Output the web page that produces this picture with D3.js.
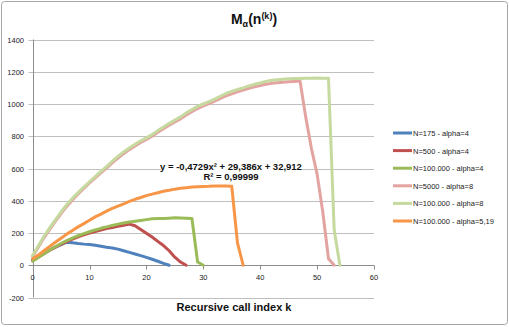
<!DOCTYPE html>
<html>
<head>
<meta charset="utf-8">
<script src="https://cdn.jsdelivr.net/npm/d3@7"></script>
<style>
  body { margin: 0; background: #fff; }
  text { font-family: "Liberation Sans", Arial, sans-serif; }
</style>
</head>
<body>
<div id="chart"></div>
<script>
// series values, index = recursive call index k (0, 1, 2, ...)
const n175a4 = [35, 55, 75, 95, 112, 128, 143, 140, 135, 131, 128, 124, 118, 112, 107, 100, 90, 80, 70, 60, 49, 37, 25, 12, 0];
const n500a4 = [28, 50, 72, 93, 112, 130, 147, 162, 176, 188, 199, 209, 218, 227, 234, 241, 248, 255, 245, 222, 198, 175, 148, 122, 90, 50, 20, 0];
const n100ka4 = [25, 48, 72, 95, 115, 135, 153, 168, 183, 196, 208, 219, 229, 238, 247, 255, 262, 268, 273, 278, 283, 288, 290, 290, 292, 294, 293, 292, 290, 20, 0];
const n5000a8 = [55, 112, 170, 222, 272, 320, 365, 405, 442, 477, 510, 542, 573, 603, 635, 665, 692, 717, 740, 762, 780, 800, 824, 847, 868, 888, 908, 932, 952, 972, 988, 1003, 1018, 1035, 1050, 1063, 1075, 1087, 1098, 1107, 1115, 1122, 1128, 1132, 1135, 1138, 1140, 1142, 920, 725, 565, 330, 40, 0];
const n100ka8 = [60, 120, 180, 232, 282, 330, 375, 415, 450, 485, 518, 550, 582, 612, 645, 675, 703, 727, 750, 772, 790, 810, 835, 858, 880, 900, 920, 945, 965, 985, 1000, 1015, 1030, 1048, 1065, 1078, 1090, 1100, 1112, 1122, 1130, 1140, 1147, 1150, 1153, 1156, 1158, 1158, 1160, 1160, 1161, 1160, 1160, 220, 0];
const n100ka519 = [40, 63, 90, 117, 143, 168, 193, 215, 238, 258, 279, 300, 317, 336, 352, 367, 381, 396, 409, 420, 432, 441, 450, 459, 465, 472, 477, 481, 485, 487, 489, 490, 492, 492, 491, 490, 140, 0];

const seriesNames = ["N=175 - alpha=4", "N=500 - alpha=4", "N=100.000 - alpha=4",
  "N=5000 - alpha=8", "N=100.000 - alpha=8", "N=100.000 - alpha=5,19"];
const seriesColors = ["#4f81bd", "#c0504d", "#9bbb59", "#e3a3a1", "#c6da9f", "#f79646"];
const allSeries = [n175a4, n500a4, n100ka4, n5000a8, n100ka8, n100ka519];

const xTicks = [0, 10, 20, 30, 40, 50, 60];
const yTicks = [-200, 0, 200, 400, 600, 800, 1000, 1200, 1400];

const W = 509, H = 327;

const svg = d3.select("#chart").append("svg")
    .attr("width", W)
    .attr("height", H);

// outer frame
svg.append("rect")
    .attr("x", 1.5).attr("y", 1.5)
    .attr("width", W - 3).attr("height", H - 4)
    .attr("rx", 3)
    .attr("fill", "#fff")
    .attr("stroke", "#a6a6a6")
    .attr("stroke-width", 1);

let x = d3.scaleLinear().domain([0, 60]).range([32.6, 374]);
let y = d3.scaleLinear().domain([-200, 1400]).range([297.5, 39.5]);

// gridlines
svg.append("g")
    .selectAll("line")
    .data(yTicks)
    .enter().append("line")
    .attr("x1", x(0) - 4)
    .attr("x2", x(60))
    .attr("y1", d => Math.round(y(d)) + 0.5)
    .attr("y2", d => Math.round(y(d)) + 0.5)
    .attr("stroke", d => d === 0 ? "#8c8c8c" : "#bfbfbf")
    .attr("stroke-width", 1);

// y axis line
svg.append("line")
    .attr("x1", Math.round(x(0)) + 0.5).attr("x2", Math.round(x(0)) + 0.5)
    .attr("y1", y(1400)).attr("y2", y(-200))
    .attr("stroke", "#8c8c8c");

// y labels
svg.append("g")
    .selectAll("text")
    .data(yTicks)
    .enter().append("text")
    .attr("x", 24)
    .attr("y", d => y(d) + 3)
    .attr("text-anchor", "end")
    .attr("font-size", 7.5)
    .attr("fill", "#222")
    .text(d => d);

// x ticks on the zero line
let xAxis = svg.append("g");
xAxis.selectAll("line")
    .data(xTicks)
    .enter().append("line")
    .attr("x1", d => Math.round(x(d)) + 0.5)
    .attr("x2", d => Math.round(x(d)) + 0.5)
    .attr("y1", Math.round(y(0)) + 0.5)
    .attr("y2", Math.round(y(0)) + 4.5)
    .attr("stroke", "#8c8c8c");
xAxis.selectAll("text")
    .data(xTicks)
    .enter().append("text")
    .attr("x", d => x(d))
    .attr("y", y(0) + 15)
    .attr("text-anchor", "middle")
    .attr("font-size", 7.5)
    .attr("fill", "#222")
    .text(d => d);

// the lines
const line = d3.line()
    .x((d, i) => x(i))
    .y(d => y(d));

svg.append("g")
    .selectAll("path")
    .data(allSeries)
    .enter().append("path")
    .attr("d", d => line(d))
    .attr("fill", "none")
    .attr("stroke", (d, i) => seriesColors[i])
    .attr("stroke-width", 3)
    .attr("stroke-linejoin", "round")
    .attr("stroke-linecap", "round");

// trendline label
let eq = svg.append("g");
eq.append("rect")
    .attr("x", 161).attr("y", 160)
    .attr("width", 140).attr("height", 22)
    .attr("fill", "#fff");
eq.append("text")
    .attr("x", 231).attr("y", 170)
    .attr("text-anchor", "middle")
    .attr("font-size", 9.5)
    .attr("font-weight", "bold")
    .attr("fill", "#111")
    .text("y = -0,4729x² + 29,386x + 32,912");
eq.append("text")
    .attr("x", 231).attr("y", 180)
    .attr("text-anchor", "middle")
    .attr("font-size", 9.5)
    .attr("font-weight", "bold")
    .attr("fill", "#111")
    .text("R² = 0,99999");

// title
let title = svg.append("text")
    .attr("x", 254).attr("y", 24)
    .attr("text-anchor", "middle")
    .attr("font-size", 14)
    .attr("font-weight", "bold")
    .attr("fill", "#111");
title.append("tspan").text("M");
title.append("tspan").attr("font-size", 9).attr("dy", 3).text("α");
title.append("tspan").attr("dy", -3).text("(n");
title.append("tspan").attr("font-size", 9).attr("dy", -5).text("(k)");
title.append("tspan").attr("dy", 5).text(")");

// x axis title
svg.append("text")
    .attr("x", 234).attr("y", 311)
    .attr("text-anchor", "middle")
    .attr("font-size", 11)
    .attr("font-weight", "bold")
    .attr("fill", "#111")
    .text("Recursive call index k");

// legend
let legend = svg.append("g")
    .selectAll("g")
    .data(seriesNames)
    .enter().append("g")
    .attr("transform", (d, i) => "translate(393," + (133 + i * 17.6) + ")");
legend.append("line")
    .attr("x1", 0).attr("x2", 19)
    .attr("stroke", (d, i) => seriesColors[i])
    .attr("stroke-width", 3);
legend.append("text")
    .attr("x", 20).attr("y", 3)
    .attr("font-size", 7.5)
    .attr("fill", "#222")
    .text(d => d);
</script>
</body>
</html>
